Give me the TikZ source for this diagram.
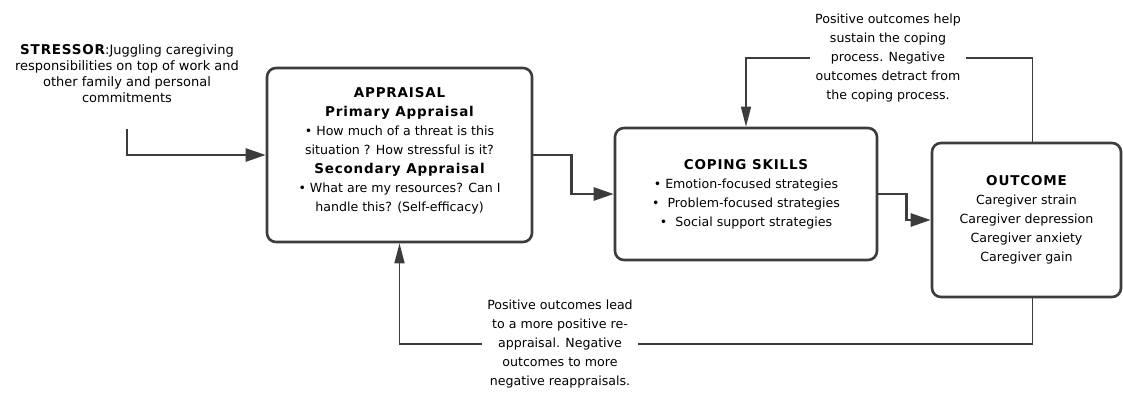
\documentclass[tikz,border=0pt]{standalone}
\usepackage{fontspec}
\setmainfont{DejaVu Sans}
\newfontfamily\headfont[LetterSpace=6]{DejaVu Sans}
\usepackage{tikz}
\usetikzlibrary{arrows.meta, positioning}
\definecolor{linegray}{RGB}{60, 60, 60}
\newcommand{\heading}[1]{{\headfont\bfseries\fontsize{13.5}{19}\selectfont #1}}

\begin{document}
\begin{tikzpicture}[x=1pt, y=-1pt,
    box/.style={draw=linegray, line width=2.6pt, rounded corners=9pt, align=center,
        font=\fontsize{12.6}{19}\selectfont},
    note/.style={align=center, inner sep=5pt, font=\fontsize{12.6}{19}\selectfont},
    flow/.style={draw=linegray, line width=2.6pt, -{Triangle[length=20pt, width=13pt]}},
    feedback/.style={draw=linegray, line width=1.6pt},
    feedarrow/.style={feedback, -{Triangle[length=20pt, width=10pt]}}]
    \useasboundingbox (0, 0) rectangle (1123, 392);

    % stressor
    \node[align=center, font=\fontsize{13}{16}\selectfont] (stressor) at (127, 74)
        {\heading{STRESSOR}:Juggling caregiving\\responsibilities on top of work and\\other family and personal\\commitments};

    % appraisal
    \node[box, minimum width=265pt, minimum height=174pt] (appraisal) at (399.5, 155)
        {\heading{APPRAISAL}\\\heading{Primary Appraisal}\\• How much of a threat is this\\situation ? How stressful is it?\\\heading{Secondary Appraisal}\\• What are my resources? Can I\\handle this? (Self-efficacy)\\[-8pt]\mbox{}};

    % coping skills
    \node[box, minimum width=262pt, minimum height=132pt] (coping) at (746, 194)
        {\heading{COPING SKILLS}\\• Emotion-focused strategies\\•\ \ Problem-focused strategies\\•\ \ Social support strategies};

    % outcome
    \node[box, minimum width=189pt, minimum height=154pt] (outcome) at (1026.5, 220)
        {\heading{OUTCOME}\\Caregiver strain\\Caregiver depression\\Caregiver anxiety\\Caregiver gain};

    % feedback notes
    \node[note] (topnote) at (888, 58)
        {Positive outcomes help\\sustain the coping\\process. Negative\\outcomes detract from\\the coping process.};
    \node[note] (botnote) at (560, 344)
        {Positive outcomes lead\\to a more positive re-\\appraisal. Negative\\outcomes to more\\negative reappraisals.};

    % main flow
    \draw[flow] ([yshift=-22pt]stressor.south) |- (appraisal.west);
    \draw[flow] (appraisal.east) -- ++(38, 0) |- (coping.west);
    \draw[flow] (coping.east) -- ++(28, 0) |- (outcome.west);

    % feedback loops
    \draw[feedback] ([xshift=6pt]outcome.north) |- (topnote.east);
    \draw[feedarrow] (topnote.west) -| (coping.north);
    \draw[feedback] ([xshift=6pt]outcome.south) |- (botnote.east);
    \draw[feedarrow] (botnote.west) -| (appraisal.south);
\end{tikzpicture}
\end{document}
